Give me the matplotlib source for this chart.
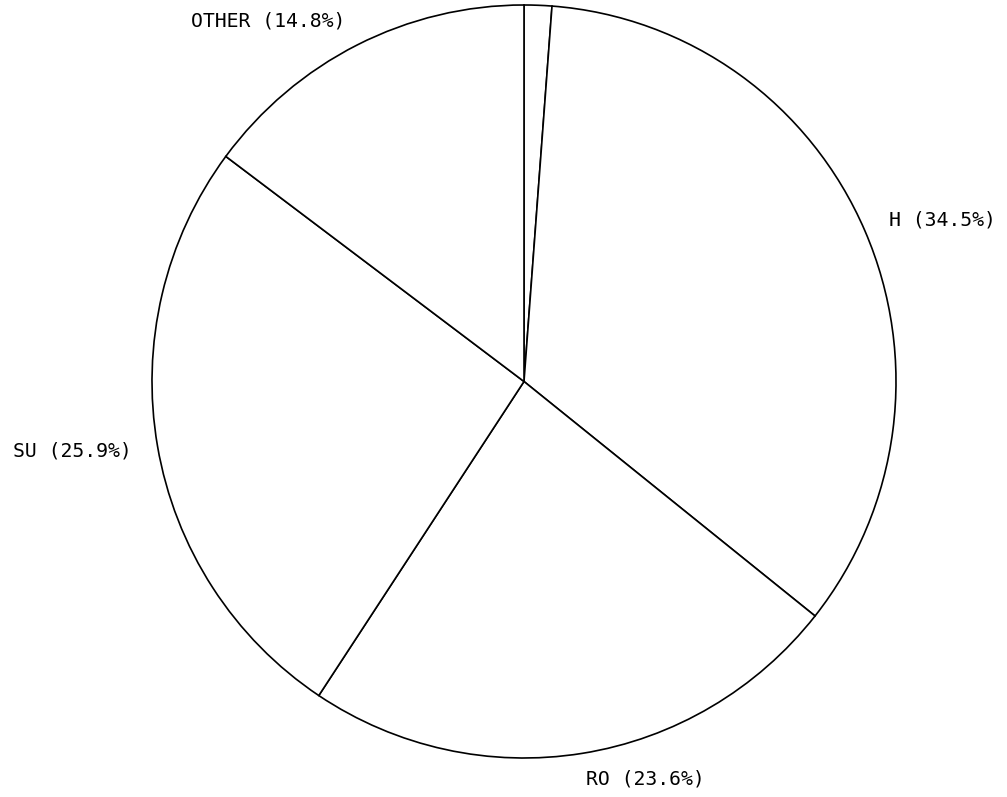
import matplotlib
matplotlib.use("Agg")
import matplotlib.pyplot as plt

labels = ["", "H (34.5%)", "RO (23.6%)", "SU (25.9%)", "OTHER (14.8%)"]
shares = [1.2, 34.5, 23.6, 25.9, 14.8]

W, H = 1007, 797
cx, cy = 524, 381.5
rx, ry = 372, 376.5

fig = plt.figure(figsize=(W / 100, H / 100), dpi=100)
ax = fig.add_axes([0, 0, 1, 1])

wedges, texts = ax.pie(shares, labels=labels, startangle=90, counterclock=False,
                       colors=["white"] * len(shares),
                       wedgeprops=dict(edgecolor="black", linewidth=1.2),
                       labeldistance=1.07,
                       textprops=dict(family="DejaVu Sans Mono", fontsize=14.2))

# slightly taller than wide, like the original
ax.set_aspect("auto")
ax.set_xlim(-cx / rx, (W - cx) / rx)
ax.set_ylim(-(H - cy) / ry, cy / ry)
ax.axis("off")

fig.savefig("out.png", dpi=100, facecolor="white")
